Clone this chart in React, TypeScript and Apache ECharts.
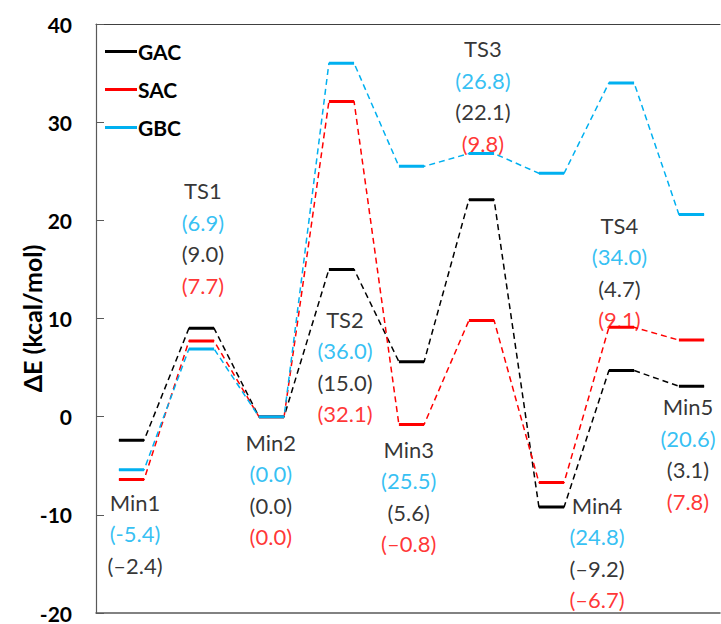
import React, { useEffect, useRef } from "react";
import * as echarts from "echarts";

const states = ["Min1", "TS1", "Min2", "TS2", "Min3", "TS3", "Min4", "TS4", "Min5"];
const gac = [-2.4, 9.0, 0.0, 15.0, 5.6, 22.1, -9.2, 4.7, 3.1];
const sac = [-6.4, 7.7, 0.0, 32.1, -0.8, 9.8, -6.7, 9.1, 7.8];
const gbc = [-5.4, 6.9, 0.0, 36.0, 25.5, 26.8, 24.8, 34.0, 20.6];

// label texts as printed in the reference
const labelBlue = ["(-5.4)", "(6.9)", "(0.0)", "(36.0)", "(25.5)", "(26.8)", "(24.8)", "(34.0)", "(20.6)"];
const labelBlack = ["(\u20132.4)", "(9.0)", "(0.0)", "(15.0)", "(5.6)", "(22.1)", "(\u20139.2)", "(4.7)", "(3.1)"];
const labelRed = ["", "(7.7)", "(0.0)", "(32.1)", "(\u20130.8)", "(9.8)", "(\u20136.7)", "(9.1)", "(7.8)"];

const yTicks = { min: -20, max: 40, interval: 10 };

// layout constants (anchor of each label block: x offset from state index, y of first line in axis units)
const labelX = [0.05, 0.02, -0.01, 0.05, -0.04, 0.02, 0.65, -0.03, -0.05];
const labelY = [-8.7, 23.0, -2.6, 9.9, -3.3, 37.5, -9.0, 19.5, 1.0];

const HALF = 0.18;
const BLACK = "#000000";
const RED = "#FF0000";
const BLUE = "#00B0F0";
const FONT = "Lato, 'Open Sans', sans-serif";
const FS = 22;
const LH = 31.5;

function levelData(vals: number[]) {
  const out: any[] = [];
  vals.forEach((v, i) => {
    out.push([i - HALF, v]);
    out.push([i + HALF, v]);
    if (i < vals.length - 1) out.push(null);
  });
  return out;
}
function pathData(vals: number[]) {
  const out: any[] = [];
  vals.forEach((v, i) => {
    out.push([i - HALF, v]);
    out.push([i + HALF, v]);
  });
  return out;
}

export default function App() {
  const ref = useRef<HTMLDivElement>(null);
  useEffect(() => {
    document.body.style.margin = "0";
    const chart = echarts.init(ref.current!, undefined, { renderer: "svg" });
    const mk = (name: string, vals: number[], color: string) => [
      {
        name: name + "-path",
        type: "line",
        data: pathData(vals),
        showSymbol: false,
        symbol: "none",
        silent: true,
        lineStyle: { color, width: 1.5, type: [6, 4] },
        z: 2,
      },
      {
        name,
        type: "line",
        data: levelData(vals),
        connectNulls: false,
        showSymbol: false,
        symbol: "none",
        silent: true,
        lineStyle: { color, width: 3 },
        itemStyle: { color },
        z: 3,
      },
    ];
    const labelData = states.map((s, i) => {
      const lines = [`{n|${s}}`, `{b|${labelBlue[i]}}`, `{k|${labelBlack[i]}}`];
      if (labelRed[i]) lines.push(`{r|${labelRed[i]}}`);
      return { value: [i + labelX[i], labelY[i]], text: lines.join("\n") };
    });
    const rich = {
      n: { color: BLACK, fontSize: FS, fontFamily: FONT, lineHeight: LH },
      b: { color: BLUE, fontSize: FS, fontFamily: FONT, lineHeight: LH },
      k: { color: BLACK, fontSize: FS, fontFamily: FONT, lineHeight: LH },
      r: { color: RED, fontSize: FS, fontFamily: FONT, lineHeight: LH },
    };
    chart.setOption({
      animation: false,
      grid: { left: 96, right: 1, top: 24, bottom: 11, containLabel: false },
      legend: {
        data: ["GAC", "SAC", "GBC"],
        orient: "vertical",
        left: 100,
        top: 36,
        itemGap: 17,
        itemWidth: 32,
        itemHeight: 3,
        icon: "rect",
        selectedMode: false,
        textStyle: { fontSize: 21, fontWeight: "bold", fontFamily: FONT, color: BLACK, padding: [0, 0, 0, -4] },
      },
      xAxis: [
        {
          type: "value",
          min: -0.507,
          max: 8.407,
          position: "bottom",
          axisLine: { show: true, onZero: false, lineStyle: { color: "#595959", width: 1.5 } },
          axisTick: { show: false },
          axisLabel: { show: false },
          splitLine: { show: false },
        },
        {
          type: "value",
          min: -0.507,
          max: 8.407,
          position: "top",
          axisLine: { show: true, onZero: false, lineStyle: { color: "#404040", width: 1 } },
          axisTick: { show: false },
          axisLabel: { show: false },
          splitLine: { show: false },
        },
      ],
      yAxis: {
        type: "value",
        min: yTicks.min,
        max: yTicks.max,
        interval: yTicks.interval,
        name: "\u0394E (kcal/mol)",
        nameLocation: "middle",
        nameGap: 52,
        nameMoveOverlap: false,
        nameTextStyle: { fontSize: 25, fontWeight: "bold", fontFamily: FONT, color: BLACK },
        axisLine: { show: true, onZero: false, lineStyle: { color: "#595959", width: 1.2 } },
        axisTick: { show: true, inside: true, length: 8, lineStyle: { color: "#595959" } },
        axisLabel: { fontSize: 21, fontWeight: "bold", fontFamily: FONT, color: BLACK, margin: 24 },
        splitLine: { show: false },
      },
      series: [
        ...mk("GAC", gac, BLACK),
        ...mk("SAC", sac, RED),
        ...mk("GBC", gbc, BLUE),
        {
          type: "scatter",
          symbolSize: 0,
          silent: true,
          data: labelData,
          z: 5,
          label: {
            show: true,
            position: "inside",
            align: "center",
            verticalAlign: "top",
            offset: [0, -LH / 2],
            formatter: (p: any) => p.data.text,
            rich,
          },
        },
      ],
    });
    return () => chart.dispose();
  }, []);
  return <div ref={ref} style={{ width: 721, height: 624 }} />;
}
